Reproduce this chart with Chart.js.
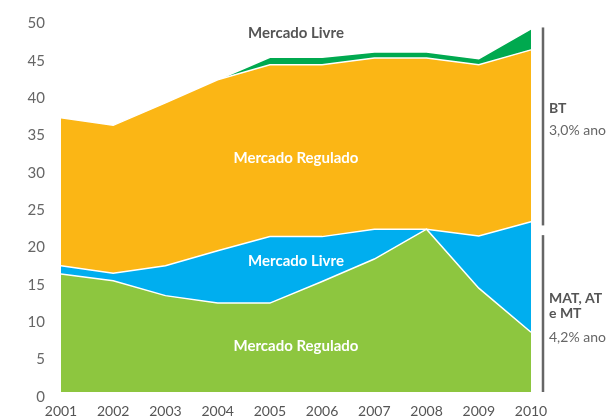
<!DOCTYPE html>
<html>
<head>
<meta charset="utf-8">
<script src="https://cdn.jsdelivr.net/npm/chart.js@4.4.0/dist/chart.umd.min.js"></script>
<style>
  html, body { margin: 0; padding: 0; width: 614px; height: 416px; overflow: hidden; background: #fff; }
  canvas { display: block; }
</style>
</head>
<body>
<canvas id="mercadoChart" width="614" height="426"></canvas>
<script>
// anos
var years = ['2001', '2002', '2003', '2004', '2005', '2006', '2007', '2008', '2009', '2010'];

// MAT, AT e MT
var matRegulado = [15.8, 14.9, 12.9, 11.9, 11.9, 14.8, 17.8, 21.8, 13.9, 8.0];
var matLivre    = [1.1, 1.0, 4.0, 7.0, 8.9, 6.0, 4.0, 0.0, 7.0, 14.8];

// BT
var btRegulado = [19.8, 19.8, 21.8, 22.9, 23.0, 23.0, 22.9, 22.9, 22.9, 23.0];
var btLivre    = [0.0, 0.0, 0.0, 0.0, 1.0, 1.0, 0.8, 0.8, 0.8, 2.8];

var yMax = 50;
var yStep = 5;

var groupNames  = [['BT'], ['MAT, AT', 'e MT']];
var groupGrowth = ['3,0% ano', '4,2% ano'];
var areaLabels  = ['Mercado Regulado', 'Mercado Livre', 'Mercado Regulado', 'Mercado Livre'];

var colors = ['#8dc63f', '#00aeef', '#fbb615', '#00a94f'];

function sumAt(arrays, i) {
    var s = 0;
    arrays.forEach(function(a) { s += a[i]; });
    return s;
}

// texts and side brackets
var annotations = {
    id: 'annotations',
    afterDatasetsDraw: function(chart) {
        var ctx = chart.ctx;
        var x = chart.scales.x;
        var y = chart.scales.y;
        var area = chart.chartArea;
        var mid = 4.5;
        var cx = x.getPixelForValue(mid);
        var a = Math.floor(mid), b = a + 1;

        function midBand(layers, k) {
            var lo = 0, hi = 0;
            for (var j = 0; j < k; j++) lo += (layers[j][a] + layers[j][b]) / 2;
            hi = lo + (layers[k][a] + layers[k][b]) / 2;
            return (lo + hi) / 2;
        }

        var layers = [matRegulado, matLivre, btRegulado, btLivre];

        ctx.save();
        ctx.textAlign = 'center';
        ctx.textBaseline = 'middle';
        ctx.font = 'bold 15px Lato';
        ctx.fillStyle = '#ffffff';
        ctx.fillText(areaLabels[0], cx, y.getPixelForValue(midBand(layers, 0) - 0.55));
        ctx.fillText(areaLabels[1], cx, y.getPixelForValue(midBand(layers, 1) + 0.4));
        ctx.fillText(areaLabels[2], cx, y.getPixelForValue(midBand(layers, 2) - 1.0));
        ctx.fillStyle = '#555555';
        ctx.fillText(areaLabels[3], cx, y.getPixelForValue(48));

        // brackets on the right
        var n = years.length - 1;
        var matTop = sumAt([matRegulado, matLivre], n);
        var total = sumAt(layers, n);
        var bx = area.right + 12;
        ctx.fillStyle = '#666666';
        ctx.fillRect(bx - 1.25, y.getPixelForValue(total + 0.2), 2.5,
            y.getPixelForValue(matTop - 0.5) - y.getPixelForValue(total + 0.2));
        ctx.fillRect(bx - 1.25, y.getPixelForValue(matTop - 1.8), 2.5,
            y.getPixelForValue(0) - y.getPixelForValue(matTop - 1.8));

        var tx = bx + 6;
        ctx.textAlign = 'left';
        // BT
        var ty = y.getPixelForValue(38.0);
        ctx.font = 'bold 14px Lato';
        ctx.fillStyle = '#555555';
        ctx.fillText(groupNames[0][0], tx, ty);
        ctx.font = '14px Lato';
        ctx.fillStyle = '#666666';
        ctx.fillText(groupGrowth[0], tx, ty + 22);
        // MAT, AT e MT
        ty = y.getPixelForValue(12.5);
        ctx.font = 'bold 14px Lato';
        ctx.fillStyle = '#555555';
        ctx.fillText(groupNames[1][0], tx, ty);
        ctx.fillText(groupNames[1][1], tx, ty + 15);
        ctx.font = '14px Lato';
        ctx.fillStyle = '#666666';
        ctx.fillText(groupGrowth[1], tx, ty + 39);
        ctx.restore();
    }
};

var ctx = document.getElementById('mercadoChart');

var datasets = [matRegulado, matLivre, btRegulado, btLivre].map(function(d, i) {
    return {
        data: d,
        backgroundColor: colors[i],
        borderColor: '#ffffff',
        borderWidth: 1.5,
        pointRadius: 0,
        tension: 0,
        fill: i === 0 ? 'origin' : '-1'
    };
});

var myChart = new Chart(ctx, {
    type: 'line',
    data: { labels: years, datasets: datasets },
    options: {
        responsive: false,
        animation: false,
        layout: { padding: { top: 18.5, right: 83, left: 0, bottom: 0 } },
        plugins: {
            legend: { display: false },
            tooltip: { enabled: false }
        },
        scales: {
            x: {
                offset: false,
                grid: { display: false, drawTicks: false },
                border: { display: false },
                ticks: {
                    color: '#555555',
                    font: { family: 'Lato', size: 14 },
                    padding: 11,
                    maxRotation: 0,
                    autoSkip: false
                },
                afterFit: function(scale) { scale.height = 34; }
            },
            y: {
                stacked: true,
                min: 0,
                max: yMax,
                // invisible tick marks keep the labels off the plot without adding top padding
                grid: { drawOnChartArea: false, drawTicks: true, tickLength: 16, tickColor: 'rgba(0,0,0,0)' },
                border: { display: false },
                ticks: {
                    stepSize: yStep,
                    color: '#666666',
                    font: { family: 'Lato', size: 15 },
                    padding: 0,
                    labelOffset: 5
                },
                afterFit: function(scale) { scale.width = 61; }
            }
        }
    },
    plugins: [annotations]
});
</script>
</body>
</html>
